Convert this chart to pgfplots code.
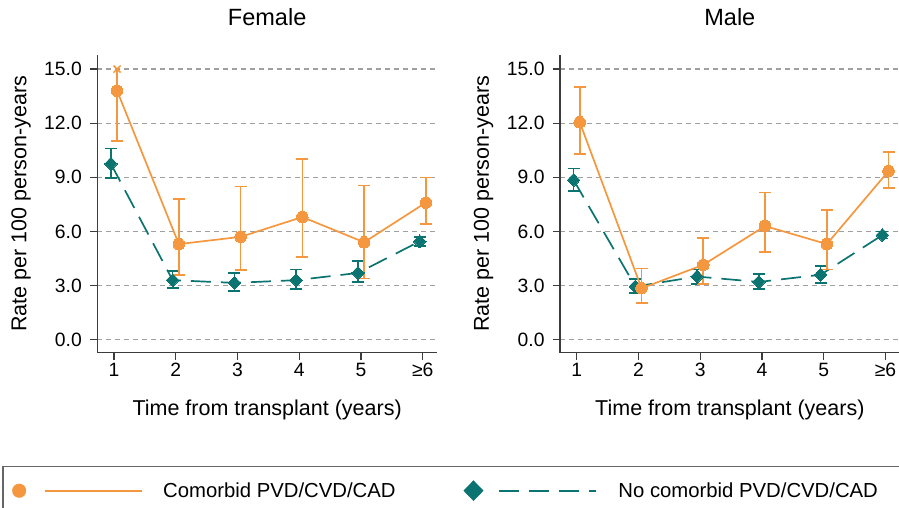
\documentclass[border=0pt]{standalone}
\usepackage{fontspec}
\setmainfont{Liberation Sans}
\usepackage{pgfplots}
\pgfplotsset{compat=1.18}
\definecolor{orangeC}{RGB}{244,151,62}
\definecolor{tealC}{RGB}{12,116,112}
\definecolor{gridC}{RGB}{160,160,160}
\definecolor{axC}{RGB}{60,60,60}
\pgfplotsset{
  panel/.style={
    scale only axis, width=339.7pt, height=297.7pt, anchor=south west,
    xmin=0.73, xmax=6.23, ymin=-0.72, ymax=15.78,
    axis x line=bottom, axis y line=left,
    axis line style={-, line width=1.3pt, axC},
    every outer x axis line/.append style={-},
    every outer y axis line/.append style={-},
    every tick/.style={line width=1.3pt, axC},
    tick align=outside, major tick length=7.5pt,
    xtick={1,2,3,4,5,6}, xticklabels={1,2,3,4,5,≥6},
    ytick={0,3,6,9,12,15},
    ymajorgrids, grid style={dash pattern=on 5pt off 4pt, gridC, line width=1.2pt},
    /pgf/number format/assume math mode=true,
    yticklabel={\pgfmathprintnumber[fixed, fixed zerofill, precision=1]{\tick}},
    tick label style={font=\fontsize{19.3}{22}\selectfont, inner sep=0pt},
    xticklabel style={anchor=base, yshift=-16.8pt},
    yticklabel style={anchor=east, xshift=-7.8pt},
    label style={font=\fontsize{21.5}{24}\selectfont},
    xlabel={Time from transplant (years)},
    ylabel={Rate per 100 person-years},
    xlabel style={at={(axis description cs:0.5,-0.2093)}, anchor=base},
    ylabel style={at={(axis description cs:-0.2246,0.5)}, anchor=center},
    title style={at={(axis description cs:0.5,1)}, anchor=base, yshift=23pt, font=\fontsize{23.5}{26}\selectfont},
    clip=false,
  },
  ebar/.style={draw=none, mark=none, forget plot,
    error bars/.cd, y dir=both, y explicit,
    error bar style={line width=1.6pt, draw=#1, solid},
    error mark options={line width=1.6pt, mark size=6pt, rotate=90, draw=#1, solid}},
  tealline/.style={tealC, line width=1.7pt, dash pattern=on 20pt off 10pt, forget plot,
    mark=diamond*, mark size=6.5pt, mark options={solid, fill=tealC, draw=tealC, xscale=1.3, line width=0pt}},
  orangeline/.style={orangeC, line width=1.7pt, forget plot,
    mark=*, mark size=5.8pt, mark options={solid, fill=orangeC, draw=orangeC, line width=0pt}},
}
\begin{document}
\begin{tikzpicture}
\useasboundingbox (0,0) rectangle (899pt,508pt);
% ---------------- Female ----------------
\begin{axis}[panel, at={(97.3pt,155.3pt)}, title={Female},
  legend style={at={(axis description cs:-0.2505,-0.4636)}, anchor=west,
    draw=none, fill=none, inner sep=0pt, outer sep=0pt,
    legend columns=2, column sep=0pt,
    nodes={inner sep=0pt, anchor=west},
    font=\fontsize{20.3}{23}\selectfont,
    /tikz/every even column/.append style={column sep=68pt}}]
% teal error bars
\addplot[ebar=tealC] coordinates {
 (0.95,9.75) += (0,0.85) -= (0,0.8)
 (1.95,3.3) += (0,0.5) -= (0,0.45)
 (2.95,3.15) += (0,0.55) -= (0,0.45)
 (3.95,3.3) += (0,0.6) -= (0,0.5)
 (4.95,3.7) += (0,0.65) -= (0,0.5)
 (5.95,5.45) += (0,0.25) -= (0,0.25)
};
\addplot[tealline] coordinates {(0.95,9.75) (1.95,3.3) (2.95,3.15) (3.95,3.3) (4.95,3.7) (5.95,5.45)};
% orange error bars
\addplot[ebar=orangeC] coordinates {
 (2.05,5.3) += (0,2.5) -= (0,1.7)
 (3.05,5.7) += (0,2.8) -= (0,1.85)
 (4.05,6.8) += (0,3.2) -= (0,2.2)
 (5.05,5.4) += (0,3.15) -= (0,2.0)
 (6.05,7.6) += (0,1.4) -= (0,1.2)
};
\addplot[draw=none, mark=none, forget plot,
  error bars/.cd, y dir=minus, y explicit,
  error bar style={line width=1.6pt, draw=orangeC},
  error mark options={line width=1.6pt, mark size=6pt, rotate=90, draw=orangeC}]
  coordinates {(1.05,13.8) -= (0,2.8)};
\addplot[orangeC, line width=1.6pt, forget plot] coordinates {(1.05,13.8) (1.05,15.0)};
\addplot[orangeC, only marks, mark=x, mark size=5pt, mark options={line width=1.5pt}, forget plot] coordinates {(1.05,15.0)};
\addplot[orangeline] coordinates {(1.05,13.8) (2.05,5.3) (3.05,5.7) (4.05,6.8) (5.05,5.4) (6.05,7.6)};
% legend
\addlegendimage{legend image code/.code={
  \path[draw=none, fill=none] (-6.8pt,0pt) -- (144pt,0pt);
  \fill[orangeC] (0pt,0pt) circle (6.8pt);
  \draw[orangeC, line width=1.6pt] (26pt,0pt) -- (123pt,0pt);}}
\addlegendentry{Comorbid PVD/CVD/CAD}
\addlegendimage{legend image code/.code={
  \path[draw=none, fill=none] (-9.7pt,0pt) -- (145pt,0pt);
  \fill[tealC] (0pt,10pt) -- (9.7pt,0pt) -- (0pt,-10pt) -- (-9.7pt,0pt) -- cycle;
  \draw[tealC, line width=1.6pt, dash pattern=on 20pt off 10pt] (26pt,0pt) -- (123pt,0pt);}}
\addlegendentry{No comorbid PVD/CVD/CAD}
\end{axis}
% ---------------- Male ----------------
\begin{axis}[panel, at={(560pt,155.3pt)}, title={Male}]
\addplot[ebar=tealC] coordinates {
 (0.95,8.85) += (0,0.65) -= (0,0.6)
 (1.95,2.95) += (0,0.4) -= (0,0.35)
 (2.95,3.5) += (0,0.4) -= (0,0.4)
 (3.95,3.2) += (0,0.45) -= (0,0.4)
 (4.95,3.6) += (0,0.5) -= (0,0.45)
 (5.95,5.8) += (0,0.2) -= (0,0.2)
};
\addplot[tealline] coordinates {(0.95,8.85) (1.95,2.95) (2.95,3.5) (3.95,3.2) (4.95,3.6) (5.95,5.8)};
\addplot[ebar=orangeC] coordinates {
 (1.05,12.05) += (0,1.95) -= (0,1.75)
 (2.05,2.85) += (0,1.1) -= (0,0.8)
 (3.05,4.15) += (0,1.5) -= (0,1.05)
 (4.05,6.3) += (0,1.85) -= (0,1.45)
 (5.05,5.3) += (0,1.9) -= (0,1.4)
 (6.05,9.35) += (0,1.05) -= (0,0.95)
};
\addplot[orangeline] coordinates {(1.05,12.05) (2.05,2.85) (3.05,4.15) (4.05,6.3) (5.05,5.3) (6.05,9.35)};
\end{axis}
% legend frame
\draw[black!60, line width=1.5pt] (3pt,41.3pt) rectangle (930pt,-30pt);
\end{tikzpicture}
\end{document}
